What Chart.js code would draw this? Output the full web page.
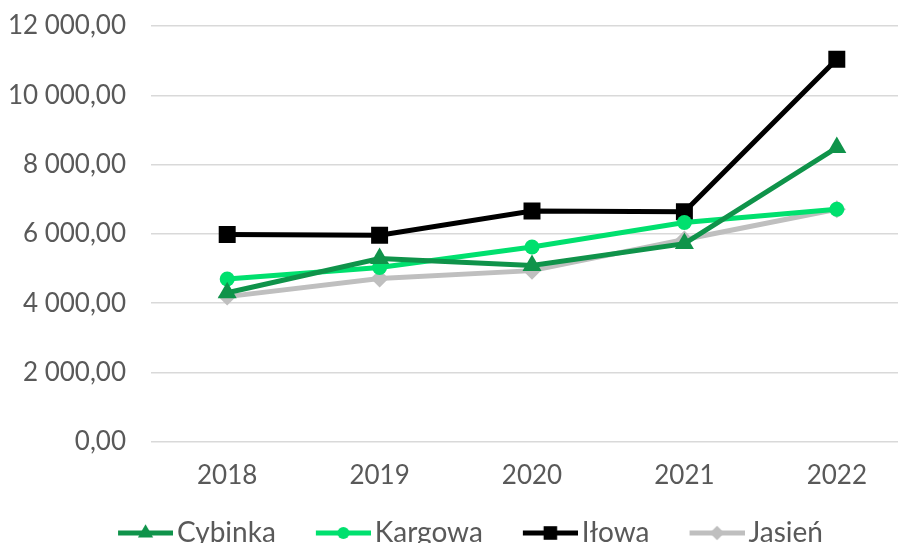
<!DOCTYPE html>
<html lang="pl">
<head>
    <meta charset="UTF-8" />
    <title>Wykres</title>
    <script src="https://cdn.jsdelivr.net/npm/chart.js@4.4.1/dist/chart.umd.min.js"></script>
    <style>
        html, body { margin: 0; padding: 0; background: #fff; overflow: hidden; }
        #myChart { position: absolute; left: 0; top: 0; }
    </style>
</head>
<body>
    <canvas id="myChart" width="925" height="557"></canvas>
    <script>
        // data
        var years = ['2018', '2019', '2020', '2021', '2022'];
        var cybinka = [4300, 5290, 5090, 5720, 8490];
        var kargowa = [4700, 5030, 5620, 6330, 6710];
        var ilowa = [5980, 5960, 6660, 6640, 11040];
        var jasien = [4190, 4710, 4940, 5840, 6710];
        var yTicks = [0, 2000, 4000, 6000, 8000, 10000, 12000];

        var FONT = 'Lato, "DejaVu Sans", sans-serif';
        var TXT = '#595959';

        function fmt(v) {
            var s = Math.round(v).toString();
            s = s.replace(/\B(?=(\d{3})+(?!\d))/g, ' ');
            return s + ',00';
        }

        // legend picture: empty left part, then line with the marker on it
        function legendImg(color, style, r) {
            var c = document.createElement('canvas');
            c.width = 95; c.height = 26;
            var g = c.getContext('2d');
            g.strokeStyle = color;
            g.fillStyle = color;
            g.lineWidth = 5;
            g.beginPath(); g.moveTo(40, 13); g.lineTo(95, 13); g.stroke();
            Chart.helpers.drawPoint(g, { pointStyle: style, radius: r, borderWidth: 0, rotation: 0 }, 67.5, 13);
            return c;
        }

        var series = [
            { label: 'Cybinka', data: cybinka, color: '#0f934a', style: 'triangle', r: 11 },
            { label: 'Kargowa', data: kargowa, color: '#00e06e', style: 'circle', r: 7.5 },
            { label: 'Iłowa', data: ilowa, color: '#000000', style: 'rect', r: 12 },
            { label: 'Jasień', data: jasien, color: '#bfbfbf', style: 'rectRot', r: 9 }
        ];

        var datasets = series.map(function (s) {
            return {
                label: s.label,
                data: s.data,
                borderColor: s.color,
                backgroundColor: s.color,
                borderWidth: 5,
                pointStyle: s.style,
                pointRadius: s.r,
                pointHoverRadius: s.r,
                pointBorderWidth: 0,
                tension: 0
            };
        });

        var chart = new Chart(document.getElementById('myChart'), {
            type: 'line',
            data: { labels: years, datasets: datasets },
            options: {
                responsive: false,
                animation: false,
                layout: { padding: { left: -14, right: 0, top: 0, bottom: 0 } },
                plugins: {
                    tooltip: { enabled: false },
                    legend: {
                        position: 'bottom',
                        labels: {
                            usePointStyle: true,
                            pointStyleWidth: 75,
                            padding: 10,
                            color: TXT,
                            font: { family: FONT, size: 28 },
                            generateLabels: function (ch) {
                                return series.map(function (s, i) {
                                    return {
                                        text: s.label,
                                        pointStyle: legendImg(s.color, s.style, s.r * 0.8),
                                        fillStyle: s.color,
                                        strokeStyle: s.color,
                                        lineWidth: 0,
                                        fontColor: TXT,
                                        datasetIndex: i
                                    };
                                });
                            }
                        }
                    }
                },
                scales: {
                    x: {
                        offset: true,
                        grid: { display: false, drawTicks: false },
                        border: { display: false },
                        ticks: { color: TXT, font: { family: FONT, size: 26 }, padding: 18 }
                    },
                    y: {
                        min: 0,
                        max: 12000,
                        afterBuildTicks: function (axis) {
                            axis.ticks = yTicks.map(function (v) { return { value: v }; });
                        },
                        afterFit: function (axis) { axis.width = 165; },
                        grid: { color: '#d9d9d9', lineWidth: 1.5, drawTicks: false },
                        border: { display: false },
                        ticks: {
                            color: TXT,
                            padding: 25,
                            font: { family: FONT, size: 26, lineHeight: '2px' },
                            callback: function (v) { return fmt(v); }
                        }
                    }
                }
            }
        });
    </script>
</body>
</html>
